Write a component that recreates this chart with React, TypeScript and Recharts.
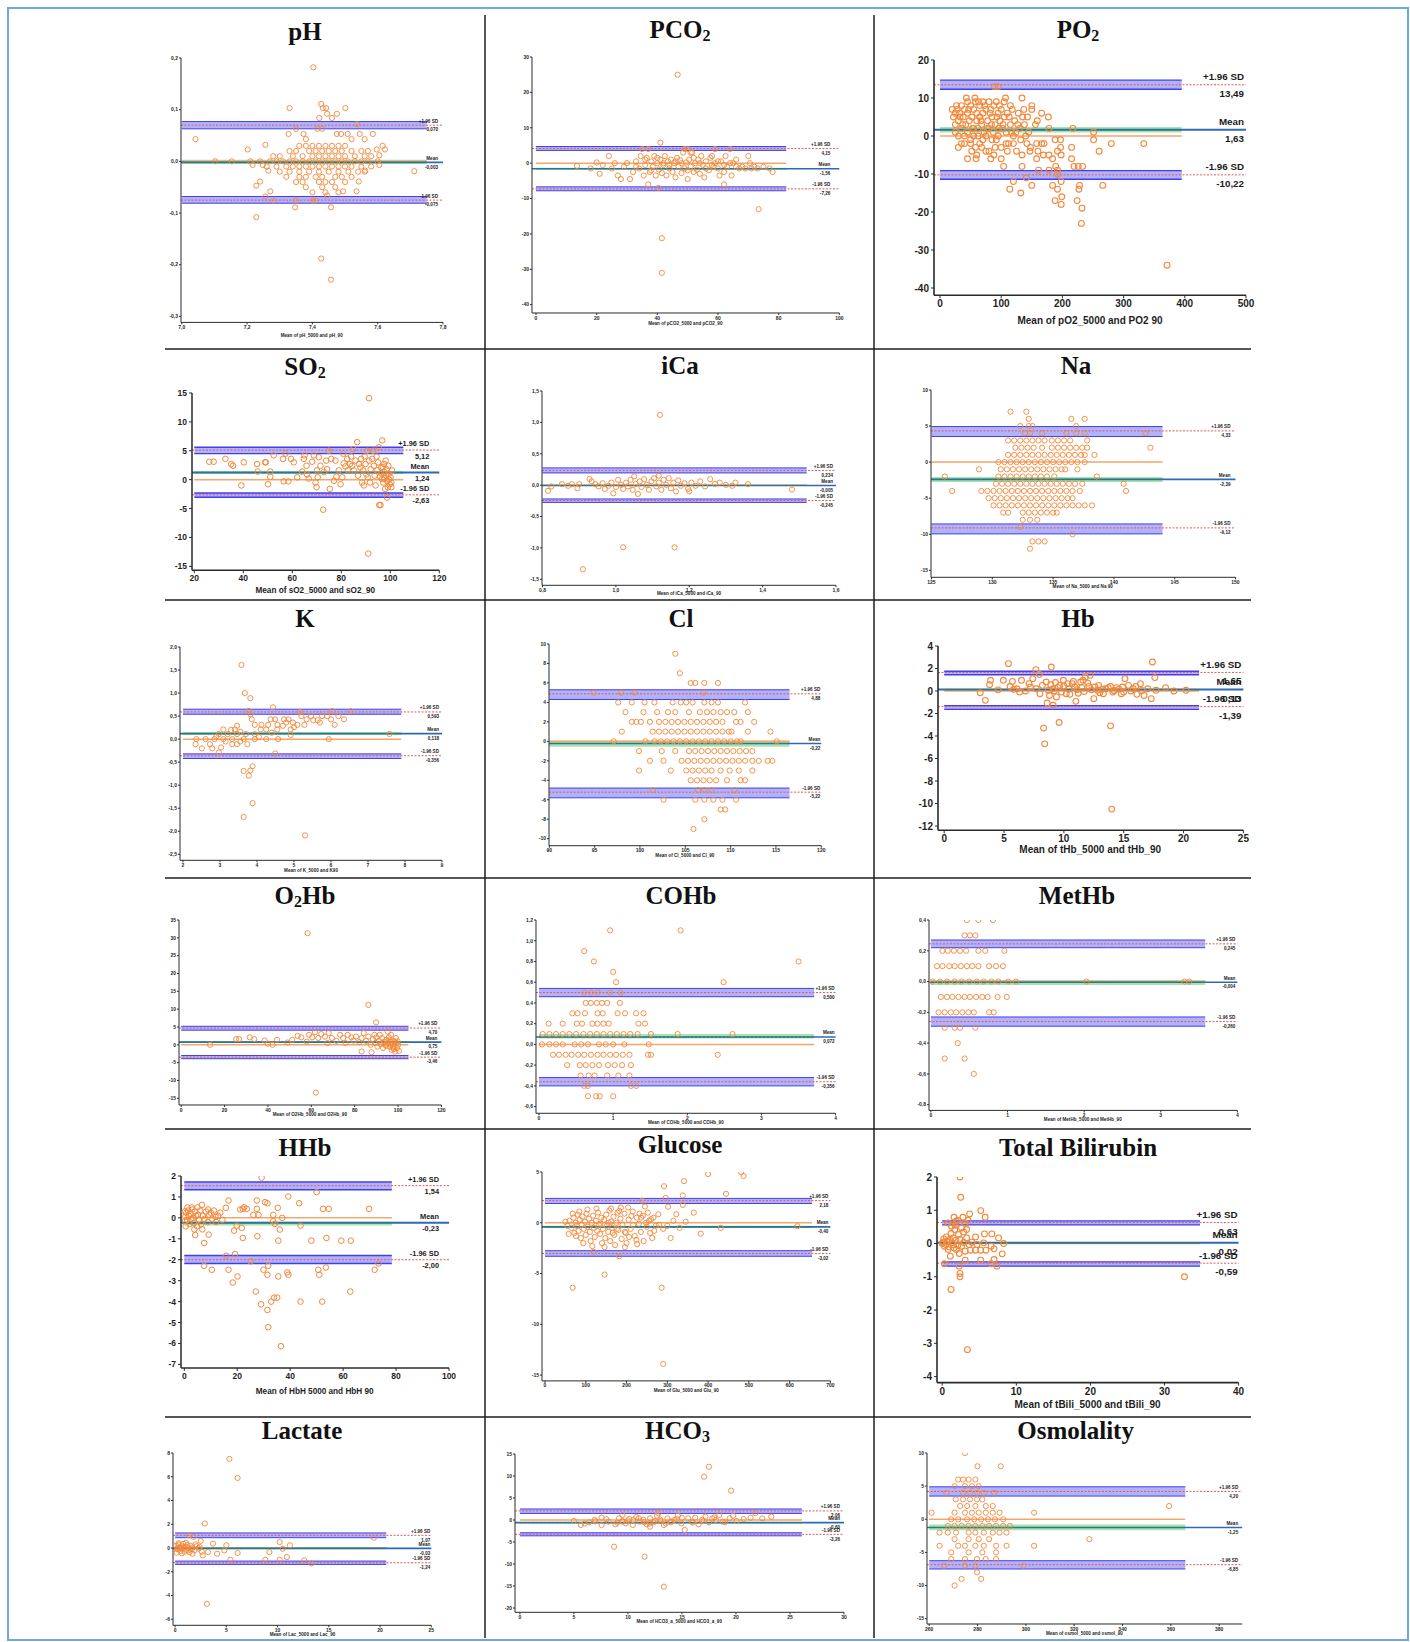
import { ScatterChart, Scatter, XAxis, YAxis, ReferenceLine, ReferenceArea } from 'recharts';

type Pt = [number, number];
type Row = [number, number[]];
type Band = [number, number];

// rows of points sharing one y value (integer-step differences)
const rows = (r: Row[]): Pt[] => r.flatMap(([y, xs]) => xs.map((x): Pt => [x, y]));

// ---------- pH ----------
const PH_X_TICKS = [7.0, 7.2, 7.4, 7.6, 7.8];
const PH_Y_TICKS = [0.2, 0.1, 0, -0.1, -0.2, -0.3];
const PH_LIMITS = [0.07, -0.002, -0.075];
const PH_CI: Band[] = [[0.063, 0.077], [-0.005, 0.003], [-0.081, -0.068]];
const PH_TEXT = ['0,070', '-0,003', '-0,075'];
const PH_END = 7.75;
const PH_POINTS: Pt[] = [
  [7.403, 0.182], [7.33, 0.103], [7.427, 0.111], [7.432, 0.103], [7.442, 0.103], [7.445, 0.092], [7.501, 0.103],
  [7.475, 0.092], [7.46, 0.084], [7.421, 0.084], [7.537, 0.072], [7.35, 0.063], [7.43, 0.063], [7.415, 0.063],
  [7.327, 0.053], [7.373, 0.053], [7.38, 0.043], [7.042, 0.043], [7.475, 0.053], [7.488, 0.053], [7.508, 0.053],
  [7.545, 0.053], [7.585, 0.053], [7.52, 0.043], [7.56, 0.043], [7.256, 0.032], [7.202, 0.023], [7.615, 0.03],
  [7.622, 0.023], [7.597, 0.023], [7.605, 0.012], [7.102, 0], [7.153, 0], [7.21, 0], [7.24, 0], [7.6, 0],
  [7.217, -0.007], [7.248, -0.007], [7.605, -0.007], [7.712, -0.019], [7.265, -0.018], [7.562, -0.018],
  [7.228, -0.047], [7.24, -0.039], [7.271, -0.058], [7.256, -0.068], [7.281, -0.076], [7.35, -0.076],
  [7.347, -0.089], [7.401, -0.076], [7.409, -0.076], [7.457, -0.089], [7.445, -0.066], [7.494, -0.058],
  [7.535, -0.058], [7.542, -0.039], [7.228, -0.108], [7.427, -0.188], [7.457, -0.229],
  ...rows([
    [0.03, [7.36, 7.38, 7.4, 7.42, 7.44, 7.46, 7.48, 7.5]],
    [0.02, [7.33, 7.35, 7.39, 7.41, 7.43, 7.45, 7.47, 7.49, 7.52, 7.55, 7.57]],
    [0.01, [7.28, 7.3, 7.34, 7.37, 7.4, 7.42, 7.44, 7.46, 7.48, 7.5, 7.53, 7.56, 7.58]],
    [0, [7.27, 7.29, 7.31, 7.33, 7.35, 7.37, 7.39, 7.41, 7.43, 7.45, 7.47, 7.49, 7.51, 7.53, 7.55, 7.57]],
    [-0.01, [7.26, 7.29, 7.32, 7.34, 7.36, 7.38, 7.4, 7.42, 7.44, 7.46, 7.48, 7.5, 7.52, 7.55, 7.58]],
    [-0.02, [7.3, 7.33, 7.36, 7.39, 7.42, 7.45, 7.48, 7.51, 7.54, 7.56]],
    [-0.03, [7.32, 7.36, 7.38, 7.41, 7.43, 7.47, 7.49, 7.52]],
    [-0.04, [7.35, 7.37, 7.42, 7.44, 7.46, 7.5]],
    [-0.05, [7.38, 7.43, 7.47]],
    [-0.06, [7.4, 7.44, 7.48]],
  ]),
];

// ---------- PCO2 ----------
const PCO2_X_TICKS = [0, 20, 40, 60, 80, 100];
const PCO2_Y_TICKS = [30, 20, 10, 0, -10, -20, -30, -40];
const PCO2_LIMITS = [4.15, -1.56, -7.26];
const PCO2_CI: Band[] = [[3.6, 4.7], [-1.85, -1.3], [-7.8, -6.7]];
const PCO2_TEXT = ['4,15', '-1,56', '-7,26'];
const PCO2_END = 82.5;
const PCO2_POINTS: Pt[] = [
  [46.7, 25], [41.5, -21.2], [41.5, -31], [73.4, -13], [40.4, -7], [37, -6], [62, -6], [41, 5.8], [49, 4], [50, 4],
  [51, 3], [59, 4], [64, 4], [13.5, -0.8], [18, -1.5], [20, 0.2], [21, -3], [22, -0.5], [24, 2], [25, -1.5], [26, 0],
  [27, -3.5], [28, -4.5], [29, -1], [30, 0], [31, -4.5], [32, -2.5], [33, 0.5], [34, -1.5], [34.5, 2], [35, 4],
  [35.5, -3.5], [36, -0.5], [36.5, 1.5], [37, 4], [37.5, -2.5], [38, 0.5], [38.5, -1], [39, 2], [39.5, -3.5],
  [40, 0], [40.5, -1.8], [41, 1], [41.5, -2.8], [42, -0.5], [42.5, 2], [43, -3.5], [43.5, 0.5], [44, -1.5],
  [44.5, 1], [45, -2.5], [45.5, 0], [46, -4], [46.5, 1.5], [47, -1], [47.5, 0.8], [48, -2.8], [48.5, 3],
  [49, -1.5], [49.5, 0.2], [50, -4.5], [50.5, 1], [51, -1], [51.5, 3], [52, -2.5], [52.5, 0], [53, -1.8],
  [53.5, 1], [54, -3], [54.5, 2], [55, -0.5], [55.5, -4], [56, 0.5], [57, -2], [57.5, 1.5], [58, 2], [58.5, -1],
  [59, 0], [60, -1.5], [60.5, -3.5], [61, 0.5], [62, -2.5], [62.5, 2], [63, -1], [64, 0], [64.5, -3.5], [65, 0],
  [66, -1], [67, -1.5], [68, -1], [69, -1.5], [70, 2], [70.5, 0], [71, -1.5], [72, -1], [73, -1.5], [75, -1],
  [77, -1.5], [78, -2.5], [33, -1], [36, 1], [38, -2], [40, 1.5], [42, 0], [44, -0.5], [46, 0.5], [48, 0],
  [50, -2], [52, 1.5], [54, 0], [56, -1.5], [58, -0.5], [60, 0.5], [62, -0.5], [66, 1],
];

// ---------- PO2 ----------
const PO2_X_TICKS = [0, 100, 200, 300, 400, 500];
const PO2_Y_TICKS = [20, 10, 0, -10, -20, -30, -40];
const PO2_LIMITS = [13.49, 1.63, -10.22];
const PO2_CI: Band[] = [[12.3, 14.7], [0.9, 2.4], [-11.4, -9.1]];
const PO2_TEXT = ['13,49', '1,63', '-10,22'];
const PO2_END = 395;
const PO2_POINTS: Pt[] = [
  [89, 13], [95, 13], [43, 10], [57, 10], [107, 10], [134, 10], [150, 8], [150, 7], [166, 6], [177, 5], [159, 4],
  [156, 3], [178, 2], [217, 2], [251, 1], [188, -1], [197, -1], [251, -1], [280, -2], [333, -2], [158, -2],
  [166, -2], [170, -2], [197, -3], [215, -3], [147, -4], [160, -4], [192, -4], [260, -4], [134, -5], [169, -5],
  [178, -5], [198, -5], [45, -6], [59, -6], [83, -6], [158, -6], [184, -6], [215, -6], [104, -8], [134, -8],
  [189, -8], [219, -8], [226, -8], [233, -8], [161, -9], [178, -9], [192, -9], [192, -10], [141, -11], [120, -12],
  [198, -12], [150, -13], [184, -13], [228, -13], [266, -13], [114, -14], [192, -14], [227, -14], [132, -15],
  [199, -16], [188, -17], [224, -17], [198, -18], [232, -19], [231, -23], [371, -34],
  [20, 7], [22, 5], [25, 6], [25, 3], [28, 7], [30, 4], [30, -3], [32, 6], [35, 8], [35, 2], [38, 5], [40, 7],
  [40, -2], [42, 3], [45, 9], [45, 6], [45, 1], [48, 4], [50, 8], [50, -1], [52, 5], [55, 7], [55, 2], [58, 9],
  [58, -3], [60, 6], [60, 4], [62, 0], [65, 8], [65, 5], [65, -2], [68, 3], [70, 9], [70, 6], [72, 1], [75, 7],
  [75, -4], [78, 4], [80, 9], [80, 2], [82, 6], [85, 5], [85, -1], [88, 8], [88, -5], [90, 3], [92, 9], [95, 6],
  [95, 0], [98, 4], [100, 7], [100, -3], [102, 2], [105, 5], [108, 1], [110, 6], [112, -2], [115, 3], [118, 7],
  [120, 0], [122, 4], [125, -4], [128, 6], [130, 2], [132, -1], [135, 5], [138, 3], [140, 0], [142, -2], [145, 1],
  [148, -3], [35, -2], [50, -2], [70, -1], [90, -3], [110, -4], [80, -4], [60, -5], [100, -6], [30, 0], [40, 0],
  [55, 0], [75, 0], [120, -2], [25, 1], [115, 8], [105, 9], [27, 8], [33, 5], [37, 3], [47, 7], [53, 2],
  [63, 9], [67, 4], [73, 8], [77, 2], [83, 7], [87, 1], [93, 5], [97, 8], [103, 3], [113, 5], [117, 1],
  [127, 3], [137, 7], [143, 5], [52, -4], [68, -3], [92, -1], [108, -2], [124, 1], [62, 2], [84, 3], [96, 2],
];

// ---------- SO2 ----------
const SO2_X_TICKS = [20, 40, 60, 80, 100, 120];
const SO2_Y_TICKS = [15, 10, 5, 0, -5, -10, -15];
const SO2_LIMITS = [5.12, 1.24, -2.63];
const SO2_CI: Band[] = [[4.5, 5.6], [0.98, 1.44], [-3.05, -2.3]];
const SO2_TEXT = ['5,12', '1,24', '-2,63'];
const SO2_END = 105.3;
const SO2_POINTS: Pt[] = [
  [26.1, 3.1], [27.9, 3.1], [32.7, 3.6], [35.1, 2.7], [35.8, 2.4], [40.2, 3.0], [39.2, -1.0], [45.6, 2.7],
  [45.9, 1.4], [48.9, 3.0], [49.2, 3.0], [50.1, -0.8], [51, 0.5], [51, 1.4], [52.4, 4.2], [56.2, 3.6], [57.2, 4.5],
  [56.5, -0.3], [58.4, -0.3], [59.5, 3.6], [60.6, 3.0], [62, 0.4], [64, 1.4], [64.7, 3.6], [65, 4.2], [65.8, 2.4],
  [66, 0.9], [66.7, 0.2], [68.1, 3.1], [68.8, 4.2], [69.5, -0.5], [69.9, -1.3], [70.1, 1.6], [70.4, 0.4],
  [70.8, 3.9], [71.5, 2.4], [72.6, -5.2], [72.9, 1.3], [73.8, 3.3], [74.2, 1.8], [74.9, 5.0], [75.3, -1.6],
  [75.9, 3.6], [77, -0.2], [77.6, 3.3], [78, 0.5], [79, 1.6], [79.7, -0.8], [80.4, 0.4], [80.8, 4.5], [81, 2.8],
  [81.7, 2.3], [82.4, 3.6], [82.7, 1.6], [83.5, 2.7], [84, 4.0], [84.4, 2.4], [84.9, 5.3], [85.1, 1.6],
  [85.8, 3.3], [86.5, 6.5], [86.8, 0.7], [87.2, 2.7], [87.8, 2.1], [88.1, 3.6], [88.5, -0.5], [88.9, 1.6],
  [89.2, -1.0], [89.5, 4.0], [89.9, 2.7], [90.3, 0.9], [90.6, 5.0], [90.8, 0.4], [91.3, 14.1], [91.3, 3.3],
  [91.7, -0.5], [92, 1.8], [91, -12.8], [92.6, 3.6], [93, 5.0], [93.3, 2.4], [93.6, 0.7], [94, -1.0], [94.4, 4.0],
  [94.7, 1.6], [95, 3.0], [95.3, 5.6], [95.5, -4.4], [96, -4.4], [96.3, 2.1], [96.7, 6.8], [96.7, 0.1],
  [97.1, -0.5], [97.4, 2.7], [97.7, 1.3], [98.1, 3.3], [98.2, 0.7], [98.5, 1.8], [98.7, -0.2], [98.7, -3.1],
  [99, -1.3], [99.4, 1.0], [99.8, -0.8], [100.1, 0.4], [100.4, -0.5], [100.7, 1.6], [99.2, 2.4], [100.4, -1.3],
  [97.5, 0.2], [98.9, 0.9], [96.2, 1.1], [97.9, -1.6], [99.6, 0.0], [96.9, 2.2], [95.8, 0.5],
];

// ---------- iCa ----------
const ICA_X_TICKS = [0.8, 1.0, 1.2, 1.4, 1.6];
const ICA_Y_TICKS = [1.5, 1.0, 0.5, 0, -0.5, -1.0, -1.5];
const ICA_LIMITS = [0.234, -0.005, -0.245];
const ICA_CI: Band[] = [[0.195, 0.275], [-0.015, 0.005], [-0.275, -0.22]];
const ICA_TEXT = ['0,234', '-0,005', '-0,245'];
const ICA_END = 1.52;
const ICA_POINTS: Pt[] = [
  [1.12, 1.12], [0.91, -1.34], [1.02, -0.99], [1.16, -0.99], [1.48, -0.07],
  [0.815, -0.09], [0.824, -0.02], [0.853, 0.016], [0.87, -0.01], [0.88, 0.016], [0.895, -0.05], [0.9, 0.016],
  [0.928, 0.1], [0.934, 0.06], [0.944, 0.016], [0.953, -0.02], [0.964, 0.03], [0.97, -0.06], [0.98, -0.01],
  [0.988, 0.04], [0.993, -0.13], [1.0, -0.03], [1.006, 0.085], [1.014, 0.005], [1.02, -0.06], [1.028, 0.04],
  [1.033, -0.02], [1.04, 0.085], [1.046, -0.075], [1.054, 0.02], [1.06, -0.14], [1.065, 0.06], [1.07, -0.03],
  [1.077, 0.095], [1.084, 0.005], [1.09, -0.075], [1.097, 0.06], [1.104, 0.11], [1.11, -0.02], [1.117, 0.04],
  [1.124, -0.075], [1.13, 0.085], [1.137, 0.005], [1.144, 0.11], [1.15, -0.05], [1.157, 0.04], [1.164, -0.1],
  [1.17, 0.075], [1.177, -0.01], [1.187, 0.03], [1.197, -0.06], [1.206, 0.04], [1.217, -0.01], [1.23, 0.06],
  [1.243, -0.02], [1.257, 0.095], [1.27, 0.02], [1.283, 0.04], [1.3, 0.005], [1.317, -0.01], [1.326, 0.04],
  [1.36, 0.016], [1.2, -0.1], [1.05, 0.14], [1.117, 0.15],
];

// ---------- Na ----------
const NA_X_TICKS = [125, 130, 135, 140, 145, 150];
const NA_Y_TICKS = [10, 5, 0, -5, -10, -15];
const NA_LIMITS = [4.33, -2.39, -9.12];
const NA_CI: Band[] = [[3.55, 4.93], [-2.76, -2.07], [-9.95, -8.57]];
const NA_TEXT = ['4,33', '-2,39', '-9,12'];
const NA_END = 144;
const NA_POINTS: Pt[] = rows([
  [7, [131.5, 132.8]],
  [6, [133.0, 136.5, 137.6]],
  [5, [132.3, 133.0, 133.3, 136.9]],
  [4, [132.7, 133.1, 134.1, 136.1, 136.9, 137.6, 142.6]],
  [3, [131.3, 131.8, 132.3, 132.8, 133.3, 133.8, 134.3, 134.9, 135.4, 135.9, 136.4, 137.8]],
  [2, [131.9, 132.4, 132.9, 133.4, 134.1, 134.9, 135.4, 135.9, 136.4, 136.9, 137.4, 137.8, 143.0]],
  [1, [131.3, 131.8, 132.3, 132.8, 133.3, 133.8, 134.3, 134.8, 135.3, 135.8, 136.3, 136.8, 137.3, 137.6, 138.4]],
  [0, [130.5, 131.0, 131.5, 132.0, 132.5, 133.0, 133.5, 134.0, 134.5, 135.0, 135.5, 136.0, 136.5, 137.0, 137.6]],
  [-1, [128.9, 130.7, 131.2, 131.7, 132.2, 132.7, 133.2, 133.7, 134.2, 134.7, 135.2, 135.7, 136.0, 137.0]],
  [-2, [126.1, 130.5, 131.0, 131.5, 132.0, 132.5, 133.0, 133.5, 134.0, 134.5, 135.1, 138.6]],
  [-3, [130.3, 130.8, 131.3, 131.8, 132.3, 132.8, 133.3, 133.8, 134.3, 134.8, 135.3, 135.8, 136.3, 136.8, 137.4, 140.8]],
  [-4, [126.7, 129.1, 129.6, 130.1, 130.6, 131.1, 131.6, 132.1, 132.6, 133.1, 133.6, 134.1, 134.6, 135.1, 135.6, 136.1, 136.6, 137.2, 141.0]],
  [-5, [129.7, 130.2, 130.7, 131.2, 131.7, 132.2, 132.7, 133.2, 133.7, 134.2, 134.7, 135.2, 135.7, 136.2, 136.6]],
  [-6, [130.1, 130.6, 131.1, 131.6, 132.1, 132.6, 133.1, 133.6, 134.1, 134.6, 135.1, 135.6, 136.1, 136.6, 137.1, 137.6, 138.2]],
  [-7, [130.9, 131.3, 132.5, 133.0, 133.5, 134.0, 134.5, 135.0, 135.3]],
  [-8, [132.5, 133.1, 133.7]],
  [-9, [132.3]],
  [-10, [136.6]],
  [-11, [133.3, 133.8, 134.3]],
  [-12, [133.1]],
]);

// ---------- K ----------
const K_X_TICKS = [2, 3, 4, 5, 6, 7, 8, 9];
const K_Y_TICKS = [2.0, 1.5, 1.0, 0.5, 0, -0.5, -1.0, -1.5, -2.0, -2.5];
const K_LIMITS = [0.59, 0.12, -0.36];
const K_CI: Band[] = [[0.54, 0.65], [0.095, 0.155], [-0.42, -0.32]];
const K_TEXT = ['0,593', '0,118', '-0,356'];
const K_END = 7.9;
const K_POINTS: Pt[] = [
  [3.58, 1.61], [3.67, 1.0], [3.82, 0.89], [3.78, 0.61], [4.43, 0.69], [5.16, 0.59], [6.03, 0.61], [6.53, 0.61],
  [3.82, 0.54], [3.86, 0.43], [3.46, 0.29], [3.09, 0.21], [3.4, 0.21], [4.37, 0.43], [4.49, 0.43], [4.73, 0.43],
  [5.34, 0.43], [5.46, 0.5], [5.76, 0.5], [5.9, 0.5], [6.0, 0.43], [6.1, 0.31], [3.94, 0.31], [4.12, 0.31],
  [4.3, 0.31], [4.55, 0.31], [4.79, 0.36], [4.97, 0.36], [5.09, 0.31], [5.28, 0.31], [5.52, 0.41], [5.64, 0.41],
  [4.25, 0.21], [4.55, 0.21], [4.91, 0.21], [2.97, 0.11], [3.21, 0.11], [3.46, 0.11], [3.7, 0.11], [3.94, 0.11],
  [4.91, 0.09], [7.58, 0.11], [2.36, 0], [2.61, 0], [2.85, 0], [3.09, 0], [3.33, 0], [3.64, 0], [3.94, 0],
  [4.25, 0], [4.57, 0], [5.94, 0], [2.34, -0.11], [2.51, -0.2], [2.73, -0.11], [2.79, -0.2], [2.97, -0.29],
  [3.03, -0.18], [3.33, -0.11], [3.46, -0.11], [3.74, -0.11], [4.49, -0.31], [3.88, -0.59], [3.82, -0.68],
  [3.64, -0.69], [3.78, -0.79], [3.88, -1.39], [3.64, -1.69], [5.3, -2.09],
  [4.1, 0.21], [4.7, 0.29], [5.0, 0.26], [3.3, 0.2], [3.55, 0.16], [4.05, 0.05], [4.4, 0.14], [2.9, 0.05],
  [3.15, -0.05], [3.55, -0.05], [5.7, 0.36], [6.2, 0.5], [6.35, 0.43], [5.2, 0.5], [4.85, 0.43],
];

// ---------- Cl ----------
const CL_X_TICKS = [90, 95, 100, 105, 110, 115, 120];
const CL_Y_TICKS = [10, 8, 6, 4, 2, 0, -2, -4, -6, -8, -10];
const CL_LIMITS = [4.88, -0.22, -5.22];
const CL_CI: Band[] = [[4.3, 5.3], [-0.55, 0.05], [-5.8, -4.8]];
const CL_TEXT = ['4,88', '-0,22', '-5,22'];
const CL_END = 116.5;
const CL_POINTS: Pt[] = rows([
  [9, [103.9]],
  [7, [104.4]],
  [6, [105.6, 106.1, 107.1, 108.6]],
  [5, [94.9, 97.9, 99.4, 107.0]],
  [4, [97.6, 99.1, 100.5, 101.6, 103.6, 104.5, 105.1, 105.8, 107.1, 107.9, 108.6, 111.6]],
  [3, [98.4, 100.4, 101.9, 103.1, 103.9, 105.4, 106.6, 107.4, 108.1, 108.9, 109.6, 110.4, 111.9]],
  [2, [99.1, 99.6, 100.1, 101.1, 102.1, 102.8, 103.5, 104.2, 104.9, 105.6, 106.3, 107.0, 107.7, 108.4, 109.1, 110.6, 111.1, 112.6]],
  [1, [98.0, 101.4, 102.1, 102.8, 103.5, 104.2, 104.9, 105.6, 106.3, 107.0, 107.7, 108.4, 109.1, 109.8, 110.1, 111.9, 114.4]],
  [0, [97.1, 100.6, 101.6, 102.3, 103.0, 103.7, 104.4, 105.1, 105.8, 106.5, 107.2, 107.9, 108.6, 109.3, 110.0, 110.7, 111.1, 115.1]],
  [-1, [99.9, 102.4, 103.9, 105.4, 106.1, 106.8, 107.5, 108.2, 108.9, 109.6, 110.3, 111.0, 111.7, 112.4]],
  [-2, [101.1, 102.6, 104.6, 105.3, 106.0, 106.7, 107.4, 108.1, 108.8, 109.5, 110.2, 110.9, 111.6, 112.4, 113.1, 114.1, 114.6]],
  [-3, [99.9, 103.4, 105.1, 105.8, 106.5, 107.2, 107.9, 108.9, 109.9, 110.9, 112.4]],
  [-4, [105.6, 106.3, 107.0, 107.7, 108.4, 109.6, 111.1, 111.6]],
  [-5, [101.4, 106.4, 107.1, 107.9, 110.4]],
  [-6, [102.6, 106.1, 107.1, 108.1, 109.1, 110.6]],
  [-7, [108.9, 109.4]],
  [-8, [107.1]],
  [-9, [105.9]],
]);

// ---------- Hb ----------
const HB_X_TICKS = [0, 5, 10, 15, 20, 25];
const HB_Y_TICKS = [4, 2, 0, -2, -4, -6, -8, -10, -12];
const HB_LIMITS = [1.65, 0.13, -1.39];
const HB_CI: Band[] = [[1.45, 1.75], [0.05, 0.2], [-1.63, -1.3]];
const HB_TEXT = ['1,65', '0,13', '-1,39'];
const HB_END = 21.3;
const HB_POINTS: Pt[] = [
  [5.37, 2.43], [17.4, 2.58], [8.95, 2.13], [7.66, 1.9], [7.95, 1.48], [12.2, 1.39], [11.6, 0.95], [17.6, 1.19],
  [3.87, 0.95], [4.94, 0.95], [6.46, 0.95], [5.7, 0.85], [7.4, 1.1], [3.79, 0.56], [3.01, -0.15], [3.44, -0.83],
  [5.5, 0.4], [6.08, 0.2], [7.09, 0.65], [8.52, 0.8], [9.1, 0.2], [9.38, -0.53], [9.67, 0.5], [9.96, 0.95],
  [10.2, -0.24], [10.4, 0.2], [10.7, 0.65], [11.1, 0.12], [11.4, 0.8], [11.8, 1.24], [12.1, 0.41], [12.5, -0.68],
  [12.8, 0.06], [13.3, -0.24], [13.7, 0.3], [14.1, -0.09], [14.4, 0.3], [14.8, -0.24], [15.1, 1.1], [15.4, 0.5],
  [15.8, 0.2], [16.1, -0.3], [16.4, 0.65], [16.7, -0.39], [17.3, -0.68], [17.7, 0.06], [18.5, 0.3], [19.2, 0],
  [20.2, 0.06], [8.6, -1.07], [9.1, -1.27], [11, -0.92], [8.3, -3.3], [9.6, -2.8], [8.4, -4.7], [13.9, -3.1],
  [14, -10.5], [7.7, 0.2], [8.0, -0.24], [8.2, 0.5], [8.7, 0.06], [8.8, -0.4], [9.2, 0.0], [9.5, 0.3],
  [9.8, -0.1], [10.0, 0.45], [10.3, 0.65], [10.5, -0.3], [10.9, 0.35], [11.2, -0.2], [11.5, 0.3], [11.7, -0.05],
  [12.0, 0.7], [12.3, 0.1], [12.6, 0.35], [13.0, -0.15], [13.5, 0.2], [13.9, 0.4], [14.2, 0.05], [14.6, 0.15],
  [15.0, -0.1], [15.6, 0.0], [16.0, 0.4], [6.8, 0.0], [7.2, 0.35], [6.3, -0.1], [5.8, 0.15], [4.5, 0.1],
  [10.8, 0.85], [9.3, 0.75], [8.9, 0.55], [12.9, 0.5], [13.2, 0.15], [14.9, 0.35], [16.5, 0.05], [17.0, 0.2],
];

// ---------- O2Hb ----------
const O2HB_X_TICKS = [0, 20, 40, 60, 80, 100, 120];
const O2HB_Y_TICKS = [35, 30, 25, 20, 15, 10, 5, 0, -5, -10, -15];
const O2HB_LIMITS = [4.7, 0.75, -3.46];
const O2HB_CI: Band[] = [[4.1, 5.2], [0.5, 1.0], [-3.9, -3.0]];
const O2HB_TEXT = ['4,70', '0,75', '-3,46'];
const O2HB_END = 104.8;
const O2HB_POINTS: Pt[] = [
  [58.3, 31.3], [86.3, 11.2], [89.9, 6.3], [62.1, -13.4], [13.3, 0], [25.3, 1.6], [26.7, 1.6], [31.6, 2.1],
  [33.7, 1.6], [38.5, 1.2], [40, 0.3], [42.1, 0], [44.2, 1.4], [49, 0.65], [51.2, 1.4], [53.7, 2.5], [55.4, 2.1],
  [57.9, 0.9], [59, 2.8], [60.4, 2.1], [61.7, 3.55], [63.2, 1.9], [64.6, 3], [66.3, 2.3], [67.4, 0.5], [68, 3.3],
  [69.5, 1.9], [71.6, 1.1], [73.3, 2.8], [74.7, 1.9], [75.8, 0.5], [76.8, 2.8], [78.5, 2.1], [79.4, 1.2],
  [80.6, 2.3], [82.1, 0.75], [83.2, 1.9], [83.2, -1.9], [84.2, 3.3], [85.3, 1.1], [86.3, 2.3], [87.4, 0],
  [87.8, -2.1], [88.4, 1.6], [89.1, 2.8], [89.5, 0.5], [90.1, 2.1], [90.5, -0.5], [91.2, 1.1], [91.6, 2.8],
  [92, 0.2], [92.6, 1.9], [93.1, -0.9], [93.7, 0.9], [94.1, 0], [94.7, 1.4], [95.2, 3.7], [95.4, 0.5],
  [95.8, 2.1], [96.2, -0.5], [96.6, 0.9], [97, -1.4], [97.5, 0.2], [97.9, 1.1], [98.3, -0.5], [98.7, -1.9],
  [99.2, 0.5], [99.6, -0.9], [100, 0], [100.4, -1.7], [99, 1.9], [96.8, 2.8], [94.5, -0.3], [96.5, 0.1],
  [97.7, -0.8], [98.5, 0.8], [95.6, 1.2], [93.4, 0.4], [99.8, 1.0], [98.0, -1.2],
];

// ---------- COHb ----------
const COHB_X_TICKS = [0, 1, 2, 3, 4];
const COHB_Y_TICKS = [1.2, 1.0, 0.8, 0.6, 0.4, 0.2, 0, -0.2, -0.4, -0.6];
const COHB_LIMITS = [0.5, 0.072, -0.36];
const COHB_CI: Band[] = [[0.46, 0.54], [0.058, 0.1], [-0.4, -0.32]];
const COHB_TEXT = ['0,500', '0,072', '-0,356'];
const COHB_END = 3.71;
const COHB_POINTS: Pt[] = rows([
  [1.1, [0.96, 1.91]],
  [0.9, [0.61]],
  [0.8, [0.74, 3.5]],
  [0.7, [1.0]],
  [0.6, [1.04, 2.49]],
  [0.5, [0.61, 0.7, 0.79, 0.96, 1.1]],
  [0.4, [0.63, 0.7, 0.78, 0.85, 0.92, 1.09]],
  [0.3, [0.45, 0.52, 0.62, 0.79, 0.86, 1.06, 1.16, 1.31, 1.41]],
  [0.2, [0.13, 0.32, 0.51, 0.58, 0.72, 0.79, 0.87, 0.94, 1.34, 1.43]],
  [0.1, [0.05, 0.14, 0.23, 0.32, 0.41, 0.5, 0.6, 0.69, 0.78, 0.87, 0.96, 1.05, 1.14, 1.23, 1.33, 1.51, 1.87, 2.61]],
  [0, [0.04, 0.14, 0.23, 0.32, 0.48, 0.57, 0.66, 0.81, 0.9, 1.0, 1.15, 1.48]],
  [-0.1, [0.19, 0.27, 0.36, 0.44, 0.53, 0.61, 0.7, 0.79, 0.87, 0.96, 1.04, 1.13, 1.22, 1.47, 1.51, 2.41]],
  [-0.2, [0.38, 0.55, 0.63, 0.72, 0.81, 0.93, 1.02, 1.12, 1.24]],
  [-0.3, [0.56, 0.67, 0.75, 0.92, 1.07, 1.22]],
  [-0.4, [0.61, 0.66, 1.24, 1.31]],
  [-0.5, [0.66, 0.77, 0.82, 1.0]],
]);

// ---------- MetHb ----------
const METHB_X_TICKS = [0, 1, 2, 3, 4];
const METHB_Y_TICKS = [0.4, 0.2, 0, -0.2, -0.4, -0.6, -0.8];
const METHB_LIMITS = [0.245, -0.004, -0.26];
const METHB_CI: Band[] = [[0.22, 0.27], [-0.022, 0.01], [-0.29, -0.23]];
const METHB_TEXT = ['0,245', '-0,004', '-0,260'];
const METHB_END = 3.58;
const METHB_POINTS: Pt[] = rows([
  [0.4, [0.47, 0.62, 0.81]],
  [0.3, [0.44, 0.51, 0.58]],
  [0.2, [0.15, 0.22, 0.3, 0.38, 0.46, 0.62, 0.71, 0.96]],
  [0.1, [0.08, 0.15, 0.24, 0.31, 0.39, 0.47, 0.54, 0.62, 0.76, 0.85, 0.94]],
  [0, [0.02, 0.12, 0.21, 0.31, 0.4, 0.5, 0.6, 0.69, 0.79, 0.88, 1.01, 1.11, 2.03, 3.31, 3.37]],
  [-0.1, [0.13, 0.21, 0.28, 0.36, 0.44, 0.51, 0.59, 0.67, 0.74, 0.87, 0.99]],
  [-0.2, [0.1, 0.18, 0.26, 0.33, 0.41, 0.49, 0.56, 0.76, 0.82]],
  [-0.3, [0.18, 0.31, 0.38, 0.58]],
  [-0.4, [0.35]],
  [-0.5, [0.18, 0.44]],
  [-0.6, [0.56]],
]);

// ---------- HHb ----------
const HHB_X_TICKS = [0, 20, 40, 60, 80, 100];
const HHB_Y_TICKS = [2, 1, 0, -1, -2, -3, -4, -5, -6, -7];
const HHB_LIMITS = [1.54, -0.23, -2.0];
const HHB_CI: Band[] = [[1.34, 1.71], [-0.37, -0.18], [-2.18, -1.8]];
const HHB_TEXT = ['1,54', '-0,23', '-2,00'];
const HHB_END = 78.4;
const HHB_POINTS: Pt[] = [
  [29.2, 1.92], [50, 1.23], [39.3, 1.02], [43.4, 0.7], [69.8, 0.43], [52.4, 0.43], [54.6, 0.43], [35.3, 0.48],
  [27.4, 0.83], [30.5, 0.75], [31.4, 0.7], [16.7, 0.83], [21.1, 0.4], [22.1, 0.43], [22.6, 0.51], [23.6, 0.43],
  [27.4, 0.43], [6.65, 0.62], [15.7, 0.48], [33.6, 0.14], [37, 0], [26.1, 0.14], [28, 0.14], [43.9, -0.37],
  [33.6, -0.16], [34.2, -0.29], [36.1, -0.56], [21.7, -0.48], [19.8, -0.37], [18.8, -0.61], [22.1, -0.96],
  [27.6, -0.88], [35.5, -1.09], [48, -1.09], [53.7, -0.96], [59.3, -1.09], [62.9, -1.09], [7.5, -1.2],
  [9.2, -0.8], [4.1, -0.82], [15.8, -1.81], [19.2, -1.73], [25.1, -2.08], [7.5, -2.29], [10.4, -2.48],
  [16.7, -2.48], [20.1, -2.8], [18.3, -3.09], [29.9, -2.48], [31.4, -2.72], [31.7, -2.29], [35.5, -2.8],
  [38.9, -2.61], [39.3, -2.72], [50.6, -2.48], [51, -2.72], [53.5, -2.37], [71.9, -2.48], [73.4, -2.18],
  [27, -3.52], [29, -4.13], [32.8, -4], [33.9, -3.81], [35.1, -3.81], [31.4, -4.4], [31.7, -5.22], [43.9, -4],
  [52.1, -4], [62.7, -3.52], [36.5, -6.13],
  [0.4, 0.05], [0.8, 0.25], [1.1, -0.1], [1.4, 0.35], [1.7, 0.1], [2.0, -0.3], [2.3, 0.2], [2.6, -0.05],
  [3.0, 0.4], [3.3, 0.0], [3.6, -0.25], [4.0, 0.3], [4.4, 0.1], [4.8, -0.4], [5.2, 0.15], [5.6, -0.1],
  [6.0, 0.35], [6.4, -0.3], [7.0, 0.1], [7.6, -0.05], [8.2, 0.3], [8.8, -0.2], [9.4, 0.15], [10.0, 0.25],
  [10.6, -0.05], [11.2, 0.35], [12.0, -0.2], [12.8, 0.1], [13.6, 0.25], [14.4, -0.1], [0.5, -0.4], [1.2, 0.5],
  [2.8, 0.5], [3.8, -0.55], [5.0, 0.5], [6.8, -0.55], [9.0, 0.4], [11.8, 0.05], [0.2, 0.3], [0.3, -0.15],
];

// ---------- Glucose ----------
const GLU_X_TICKS = [0, 100, 200, 300, 400, 500, 600, 700];
const GLU_Y_TICKS = [5, 0, -5, -10, -15];
const GLU_LIMITS = [2.18, -0.4, -3.02];
const GLU_CI: Band[] = [[1.9, 2.4], [-0.52, -0.3], [-3.3, -2.75]];
const GLU_TEXT = ['2,18', '-0,40', '-3,02'];
const GLU_END = 655;
const GLU_POINTS: Pt[] = [
  [400, 4.8], [481, 5], [487, 4.6], [341, 4.1], [292, 3.6], [444, 2.85], [338, 2.7], [238, 2.18], [296, 2.45],
  [302, 1.58], [338, 1.75], [365, 1.0], [322, 0.84], [278, 0.84], [266, 0.5], [204, 1.5], [162, 1.4], [182, 1.17],
  [212, 0.67], [236, 0.5], [260, 0.34], [248, 0], [272, -0.27], [290, -0.6], [263, -1.5], [308, -1.5],
  [382, -1.07], [431, -0.5], [619, -0.34], [224, -1.68], [196, -2.4], [182, -3.3], [119, -2.85], [146, -5.1],
  [68, -6.4], [286, -6.4], [290, -13.9],
  [60, 0.2], [65, -0.5], [70, 0.5], [72, -1], [75, 0], [78, -0.3], [80, 0.8], [82, -0.8], [85, 0.3], [88, -1.5],
  [90, -0.2], [92, 0.6], [95, -0.6], [98, 0.1], [100, -1.2], [102, 0.9], [105, -0.4], [108, 0.4], [110, -0.9],
  [112, -1.8], [115, 0], [118, 0.7], [120, -0.5], [122, -1.4], [125, 0.2], [128, -0.8], [130, 1.0], [132, -0.2],
  [135, -1.1], [138, 0.5], [140, -2.0], [142, -0.6], [145, 0.3], [148, -1.5], [150, 0.8], [152, -0.3],
  [155, -0.9], [158, 1.2], [160, -1.8], [162, 0.1], [165, -0.5], [168, 0.6], [170, -1.2], [172, -2.2], [175, 0],
  [178, 1.0], [180, -0.7], [185, 0.4], [188, -1.6], [190, -0.2], [195, 0.9], [198, -1.0], [200, -2.0],
  [205, 0.3], [210, -0.6], [215, 1.1], [220, -1.3], [225, 0.5], [230, -0.1], [235, -0.9], [240, 0.7],
  [245, 1.6], [250, -0.4], [255, 0.2], [55, -0.3], [50, 0.1], [58, -1.1], [68, 0.9], [76, -1.3], [84, 1.1],
  [94, -2.0], [104, 1.3], [116, -2.3], [126, 1.4], [136, -0.1], [146, -2.4], [156, 0.0], [166, -1.0],
  [176, -0.6], [186, 1.5], [196, -0.9], [206, -1.4], [216, -0.2], [226, -2.1], [232, 0.9], [242, -1.8],
  [252, 1.0], [258, -1.0], [268, -0.8], [280, -0.2], [300, -0.3], [315, 0.2], [330, -0.5], [345, 0.1],
];

// ---------- Total bilirubin ----------
const TBIL_X_TICKS = [0, 10, 20, 30, 40];
const TBIL_Y_TICKS = [2, 1, 0, -1, -2, -3, -4];
const TBIL_LIMITS = [0.63, 0.02, -0.59];
const TBIL_CI: Band[] = [[0.56, 0.68], [0.0, 0.04], [-0.68, -0.55]];
const TBIL_TEXT = ['0,63', '0,02', '-0,59'];
const TBIL_END = 34.8;
const TBIL_POINTS: Pt[] = [
  [2.4, 2.0], [2.5, 1.39], [5.2, 0.99], [3.7, 0.89], [5.8, 0.79], [1.6, 0.79], [2.8, 0.79], [0.8, 0.62],
  [1.25, 0.52], [1.9, 0.67], [3.1, 0.62], [1.7, 0.42], [2.6, 0.47], [3.3, 0.42], [2.2, 0.27], [4.5, 0.2],
  [5.7, 0.29], [6.7, 0.29], [7.6, 0.17], [0.56, 0.2], [1.0, 0.12], [1.5, 0.17], [2.4, 0.12], [3.3, 0.17],
  [5.6, 0.02], [8.3, 0], [0, 0], [0.3, -0.08], [0.8, -0.18], [1.5, -0.03], [1.9, -0.18], [2.6, -0.08],
  [3.1, -0.23], [3.8, -0.2], [4.5, -0.2], [5.2, -0.2], [5.9, -0.2], [6.6, -0.08], [7.0, -0.16], [8.1, -0.31],
  [1.1, -0.38], [2.3, -0.3], [3.1, -0.5], [5.2, -0.5], [0.3, -0.61], [6.6, -0.61], [7.4, -0.68], [7.0, -0.48],
  [2.3, -0.68], [2.4, -0.9], [2.4, -1.0], [1.2, -1.38], [32.7, -1.0], [3.4, -3.19],
  [0.1, 0.04], [0.2, 0.14], [0.5, -0.03], [0.65, 0.07], [0.9, -0.1], [1.3, 0.02], [1.6, -0.13], [1.85, 0.1],
  [2.1, -0.06], [2.9, 0.03], [3.6, -0.03], [4.0, 0.04], [4.7, -0.03], [1.2, 0.3], [1.8, 0.55], [2.1, 0.7],
  [2.9, 0.35], [3.5, 0.7],
];

// ---------- Lactate ----------
const LAC_X_TICKS = [0, 5, 10, 15, 20, 25];
const LAC_Y_TICKS = [8, 6, 4, 2, 0, -2, -4, -6];
const LAC_LIMITS = [1.07, -0.03, -1.24];
const LAC_CI: Band[] = [[0.87, 1.27], [-0.1, 0.05], [-1.38, -1.1]];
const LAC_TEXT = ['1,07', '-0,03', '-1,24'];
const LAC_END = 20.6;
const LAC_POINTS: Pt[] = [
  [5.3, 7.5], [6.1, 5.9], [2.9, 2.06], [3.1, -4.7], [1.36, 1.07], [1.8, 0.93], [2.5, 0.6], [19.4, 0.87],
  [10.2, 0.5], [11.2, 0.23], [10.5, -0.06], [9.2, -0.34], [10.9, -0.76], [10.2, -0.99], [8.8, -0.99],
  [12.6, -1.04], [13.3, -1.3], [5.4, -0.99], [6.1, -0.42], [5, 0.23], [4.8, -0.2], [3.7, 0.37], [4.1, -0.48],
  [3.2, -0.34], [2.7, -0.62], [2.4, 0.08], [1.7, -0.48],
  [0.1, 0.2], [0.2, -0.1], [0.3, 0.3], [0.4, 0.05], [0.5, -0.25], [0.6, 0.15], [0.7, -0.05], [0.8, 0.35],
  [0.9, -0.3], [1.0, 0.1], [1.1, -0.15], [1.2, 0.25], [1.3, 0], [1.4, -0.35], [1.5, 0.2], [1.6, -0.1],
  [1.7, 0.05], [1.9, -0.2], [2.1, 0.15], [2.3, -0.05], [0.15, -0.4], [0.35, 0.4], [0.65, -0.45], [1.05, 0.45],
  [0.25, 0.0], [0.55, 0.0], [0.85, 0.05], [1.25, -0.2], [2.0, 0.3], [2.6, -0.3],
];

// ---------- HCO3 ----------
const HCO3_X_TICKS = [0, 5, 10, 15, 20, 25, 30];
const HCO3_Y_TICKS = [15, 10, 5, 0, -5, -10, -15, -20];
const HCO3_LIMITS = [2.06, -0.6, -3.26];
const HCO3_CI: Band[] = [[1.5, 2.5], [-0.75, -0.45], [-3.6, -2.9]];
const HCO3_TEXT = ['2,06', '-0,60', '-3,26'];
const HCO3_END = 26.1;
const HCO3_POINTS: Pt[] = [
  [17.5, 12.1], [17.05, 9.85], [19.55, 6.67], [13.33, -15.15], [11.54, -8.33], [8.72, -6.06],
  [5.0, -0.23], [5.64, -1.14], [6.41, -0.53], [6.92, 0], [7.56, 0.53], [8.21, -0.38], [8.85, -0.98], [9.17, 0.38],
  [9.49, -0.23], [9.81, -0.76], [10.13, 0.23], [10.45, -1.14], [10.77, 0.68], [11.09, -0.38], [11.41, 0.08],
  [11.73, -0.98], [12.05, 0.38], [12.37, -0.53], [12.69, 0.98], [13.01, -0.23], [13.33, -1.14], [13.65, 0.38],
  [13.97, -0.53], [14.29, 0], [14.62, 0.98], [14.94, -0.76], [15.26, -2.27], [15.58, 0.38], [15.9, -0.38],
  [16.22, 0.53], [16.54, -0.98], [16.86, 0], [17.18, 0.76], [17.5, -0.53], [17.82, 0.38], [18.14, 0],
  [18.46, 1.14], [18.78, -0.38], [19.42, 0.38], [19.74, 0.98], [20.06, -0.23], [20.71, 0.23], [21.35, 0.53],
  [21.79, 1.52], [22.44, 0.38], [23.27, 0.76], [12.82, 1.52], [9.49, 1.14], [7.56, -1.14], [12.05, -1.52],
  [6.0, -0.8], [7.0, -0.3], [8.0, 0.2], [9.0, -0.6], [10.0, -0.1], [11.0, 0.4], [12.0, -0.8], [13.0, 0.1],
  [14.0, -0.3], [15.0, 0.5], [16.0, -0.6], [17.0, -0.2], [18.0, 0.6], [19.0, -0.5], [11.5, -0.5], [12.5, -0.2],
  [13.5, -0.8], [14.5, 0.2], [10.5, 0.0], [9.5, -0.4],
];

// ---------- Osmolality ----------
const OSM_X_TICKS = [260, 280, 300, 320, 340, 360, 380];
const OSM_Y_TICKS = [10, 5, 0, -5, -10, -15];
const OSM_LIMITS = [4.2, -1.25, -6.85];
const OSM_CI: Band[] = [[3.5, 4.9], [-1.65, -0.8], [-7.5, -6.25]];
const OSM_TEXT = ['4,20', '-1,25', '-6,85'];
const OSM_END = 366;
const OSM_POINTS: Pt[] = rows([
  [10, [274.8]],
  [8, [280, 289.6]],
  [6, [272, 274, 276.3, 279.1]],
  [5, [270.5, 274.8, 277.7, 280.5]],
  [4, [267.1, 274, 276.9, 279.8, 282.6, 286.9]],
  [3, [271, 274, 276.9, 279.8, 282]],
  [2, [272.8, 275.7, 279.1, 283.4, 286.3, 359.3]],
  [1, [261, 270.5, 274.8, 277.7, 280.5, 283.4, 286.3, 289.1, 303.4]],
  [0, [269.1, 272, 275.7, 278.6, 281.5, 284.3, 287.2, 290.6]],
  [-1, [267.7, 270.5, 273.4, 276.3, 279.1, 282, 284.8, 287.7, 290.6, 293.4]],
  [-2, [264.3, 267.7, 271.1, 276.3, 279.1, 282.6, 286.3, 289.1, 292]],
  [-3, [270.5, 276.3, 280.5, 284.8, 326.3]],
  [-4, [264.3, 272, 274.8, 279.1, 282.6, 287.7, 292, 303.4]],
  [-5, [269.1, 276.3, 282, 287.7]],
  [-6, [269.1, 274.8, 279.8, 283.4, 287.7]],
  [-7, [266.2, 274.8, 279.1, 299]],
  [-8, [279.8]],
  [-9, [273.4, 281.5]],
  [-10, [270.5]],
]);

// ---------------------------------------------------------------------------

const SANS = '"Liberation Sans", Arial, sans-serif';
const SERIF = '"Liberation Serif", "Times New Roman", serif';

interface Box {
  axisX: number; axisY: number;
  xPx: [number, number]; yPx: [number, number];
  plotRight?: number;
  tx: number; ty: number; xLabelY: number;
  inset?: number;
}

type Size = 'big' | 'mid' | 'small';

interface PanelDef {
  key: string;
  title: [string, boolean][];
  xLabel: string;
  xTicks: number[]; yTicks: number[];
  limits: number[]; ci: Band[]; text: string[]; bandEnd: number;
  points: Pt[];
  xDec: number; yDec: number;
  box: Box;
  size: Size;
}

const PANELS: PanelDef[] = [
  { key: 'ph', title: [['pH', false]], xLabel: 'Mean of pH_5000 and pH_90', xTicks: PH_X_TICKS, yTicks: PH_Y_TICKS, limits: PH_LIMITS, ci: PH_CI, text: PH_TEXT, bandEnd: PH_END, points: PH_POINTS, xDec: 1, yDec: 1, size: 'small',
    box: { axisX: 180.7, axisY: 322.7, xPx: [181.5, 442.7], yPx: [58.3, 316.7], tx: 305, ty: 40, xLabelY: 337, inset: 5 } },
  { key: 'pco2', title: [['PCO', false], ['2', true]], xLabel: 'Mean of pCO2_5000 and pCO2_90', xTicks: PCO2_X_TICKS, yTicks: PCO2_Y_TICKS, limits: PCO2_LIMITS, ci: PCO2_CI, text: PCO2_TEXT, bandEnd: PCO2_END, points: PCO2_POINTS, xDec: 0, yDec: 0, size: 'small',
    box: { axisX: 531.7, axisY: 313.3, xPx: [535.7, 839], yPx: [57.3, 305], tx: 680, ty: 38, xLabelY: 325, inset: 9 } },
  { key: 'po2', title: [['PO', false], ['2', true]], xLabel: 'Mean of pO2_5000 and PO2 90', xTicks: PO2_X_TICKS, yTicks: PO2_Y_TICKS, limits: PO2_LIMITS, ci: PO2_CI, text: PO2_TEXT, bandEnd: PO2_END, points: PO2_POINTS, xDec: 0, yDec: 0, size: 'big',
    box: { axisX: 934, axisY: 295, xPx: [940, 1246], yPx: [59.7, 287.7], tx: 1078, ty: 38, xLabelY: 324, inset: 2 } },
  { key: 'so2', title: [['SO', false], ['2', true]], xLabel: 'Mean of sO2_5000 and sO2_90', xTicks: SO2_X_TICKS, yTicks: SO2_Y_TICKS, limits: SO2_LIMITS, ci: SO2_CI, text: SO2_TEXT, bandEnd: SO2_END, points: SO2_POINTS, xDec: 0, yDec: 0, size: 'mid',
    box: { axisX: 191.7, axisY: 570, xPx: [194, 439], yPx: [392.7, 566], tx: 305, ty: 375, xLabelY: 593, inset: 10 } },
  { key: 'ica', title: [['iCa', false]], xLabel: 'Mean of iCa_5000 and iCa_90', xTicks: ICA_X_TICKS, yTicks: ICA_Y_TICKS, limits: ICA_LIMITS, ci: ICA_CI, text: ICA_TEXT, bandEnd: ICA_END, points: ICA_POINTS, xDec: 1, yDec: 1, size: 'small',
    box: { axisX: 542, axisY: 585, xPx: [542.5, 836], yPx: [390.7, 579], tx: 680, ty: 374, xLabelY: 595 } },
  { key: 'na', title: [['Na', false]], xLabel: 'Mean of Na_5000 and Na 90', xTicks: NA_X_TICKS, yTicks: NA_Y_TICKS, limits: NA_LIMITS, ci: NA_CI, text: NA_TEXT, bandEnd: NA_END, points: NA_POINTS, xDec: 0, yDec: 0, size: 'small',
    box: { axisX: 930.5, axisY: 577, xPx: [931, 1235], yPx: [389.7, 570], tx: 1076, ty: 374, xLabelY: 588, inset: 5 } },
  { key: 'k', title: [['K', false]], xLabel: 'Mean of K_5000 and K90', xTicks: K_X_TICKS, yTicks: K_Y_TICKS, limits: K_LIMITS, ci: K_CI, text: K_TEXT, bandEnd: K_END, points: K_POINTS, xDec: 0, yDec: 1, size: 'small',
    box: { axisX: 180, axisY: 860, xPx: [183, 442], yPx: [646.7, 854], tx: 305, ty: 627, xLabelY: 872 } },
  { key: 'cl', title: [['Cl', false]], xLabel: 'Mean of Cl_5000 and Cl_90', xTicks: CL_X_TICKS, yTicks: CL_Y_TICKS, limits: CL_LIMITS, ci: CL_CI, text: CL_TEXT, bandEnd: CL_END, points: CL_POINTS, xDec: 0, yDec: 0, size: 'small',
    box: { axisX: 548.7, axisY: 846, xPx: [549, 821], yPx: [644.3, 839], tx: 681, ty: 627, xLabelY: 857, inset: 1 } },
  { key: 'hb', title: [['Hb', false]], xLabel: 'Mean of tHb_5000 and tHb_90', xTicks: HB_X_TICKS, yTicks: HB_Y_TICKS, limits: HB_LIMITS, ci: HB_CI, text: HB_TEXT, bandEnd: HB_END, points: HB_POINTS, xDec: 0, yDec: 0, size: 'big',
    box: { axisX: 937.5, axisY: 830, xPx: [943.7, 1242.9], yPx: [645.7, 825.7], tx: 1078, ty: 627, xLabelY: 853, inset: 2 } },
  { key: 'o2hb', title: [['O', false], ['2', true], ['Hb', false]], xLabel: 'Mean of O2Hb_5000 and O2Hb_90', xTicks: O2HB_X_TICKS, yTicks: O2HB_Y_TICKS, limits: O2HB_LIMITS, ci: O2HB_CI, text: O2HB_TEXT, bandEnd: O2HB_END, points: O2HB_POINTS, xDec: 0, yDec: 0, size: 'small',
    box: { axisX: 178.6, axisY: 1104.7, xPx: [180.8, 441], yPx: [919.7, 1098], tx: 305, ty: 904, xLabelY: 1116, inset: 4 } },
  { key: 'cohb', title: [['COHb', false]], xLabel: 'Mean of COHb_5000 and COHb_90', xTicks: COHB_X_TICKS, yTicks: COHB_Y_TICKS, limits: COHB_LIMITS, ci: COHB_CI, text: COHB_TEXT, bandEnd: COHB_END, points: COHB_POINTS, xDec: 0, yDec: 1, size: 'small',
    box: { axisX: 536, axisY: 1113, xPx: [539, 835.6], yPx: [919.7, 1106.3], tx: 681, ty: 904, xLabelY: 1124, inset: 1 } },
  { key: 'methb', title: [['MetHb', false]], xLabel: 'Mean of MetHb_5000 and MetHb_90', xTicks: METHB_X_TICKS, yTicks: METHB_Y_TICKS, limits: METHB_LIMITS, ci: METHB_CI, text: METHB_TEXT, bandEnd: METHB_END, points: METHB_POINTS, xDec: 0, yDec: 1, size: 'small',
    box: { axisX: 928.6, axisY: 1110, xPx: [930.5, 1237], yPx: [919.6, 1104.3], tx: 1077, ty: 904, xLabelY: 1121, inset: 2 } },
  { key: 'hhb', title: [['HHb', false]], xLabel: 'Mean of HbH 5000 and HbH 90', xTicks: HHB_X_TICKS, yTicks: HHB_Y_TICKS, limits: HHB_LIMITS, ci: HHB_CI, text: HHB_TEXT, bandEnd: HHB_END, points: HHB_POINTS, xDec: 0, yDec: 0, size: 'mid',
    box: { axisX: 180.7, axisY: 1368.3, xPx: [184, 448.7], yPx: [1176.3, 1364.7], tx: 305, ty: 1156, xLabelY: 1394, inset: 10 } },
  { key: 'glu', title: [['Glucose', false]], xLabel: 'Mean of Glu_5000 and Glu_90', xTicks: GLU_X_TICKS, yTicks: GLU_Y_TICKS, limits: GLU_LIMITS, ci: GLU_CI, text: GLU_TEXT, bandEnd: GLU_END, points: GLU_POINTS, xDec: 0, yDec: 0, size: 'small',
    box: { axisX: 542, axisY: 1380.4, xPx: [545, 830.4], yPx: [1171.5, 1374.6], tx: 680, ty: 1153, xLabelY: 1392, inset: 2 } },
  { key: 'tbil', title: [['Total Bilirubin', false]], xLabel: 'Mean of tBili_5000 and tBili_90', xTicks: TBIL_X_TICKS, yTicks: TBIL_Y_TICKS, limits: TBIL_LIMITS, ci: TBIL_CI, text: TBIL_TEXT, bandEnd: TBIL_END, points: TBIL_POINTS, xDec: 0, yDec: 0, size: 'big',
    box: { axisX: 936.8, axisY: 1382.3, xPx: [942, 1238.4], yPx: [1176.7, 1376.3], tx: 1078, ty: 1156, xLabelY: 1408, inset: 1 } },
  { key: 'lac', title: [['Lactate', false]], xLabel: 'Mean of Lac_5000 and Lac_90', xTicks: LAC_X_TICKS, yTicks: LAC_Y_TICKS, limits: LAC_LIMITS, ci: LAC_CI, text: LAC_TEXT, bandEnd: LAC_END, points: LAC_POINTS, xDec: 0, yDec: 0, size: 'small',
    box: { axisX: 173.3, axisY: 1625.3, xPx: [175.4, 431.6], yPx: [1453, 1619.3], tx: 302, ty: 1439, xLabelY: 1636, inset: 1 } },
  { key: 'hco3', title: [['HCO', false], ['3', true]], xLabel: 'Mean of HCO3_a_5000 and HCO3_a_90', xTicks: HCO3_X_TICKS, yTicks: HCO3_Y_TICKS, limits: HCO3_LIMITS, ci: HCO3_CI, text: HCO3_TEXT, bandEnd: HCO3_END, points: HCO3_POINTS, xDec: 0, yDec: 0, size: 'small',
    box: { axisX: 514.7, axisY: 1612, xPx: [519.6, 843.7], yPx: [1453.7, 1607.7], tx: 677.5, ty: 1439, xLabelY: 1623, inset: 4 } },
  { key: 'osm', title: [['Osmolality', false]], xLabel: 'Mean of osmol_5000 and osmol_90', xTicks: OSM_X_TICKS, yTicks: OSM_Y_TICKS, limits: OSM_LIMITS, ci: OSM_CI, text: OSM_TEXT, bandEnd: OSM_END, points: OSM_POINTS, xDec: 0, yDec: 0, size: 'small',
    box: { axisX: 926.8, axisY: 1624, xPx: [929, 1219], yPx: [1453, 1618.7], plotRight: 1242, tx: 1075.6, ty: 1439, xLabelY: 1635, inset: 4 } },
];

const STYLE = {
  big: { tick: 10, lbl: 9.8, above: 4.5, below: 12, xl: 10, r: 2.9, sw: 1.1, axis: 1.6, tickSize: 3, tickMargin: 2 },
  mid: { tick: 8.5, lbl: 7.4, above: 3.6, below: 8.6, xl: 8.2, r: 2.8, sw: 1, axis: 1.5, tickSize: 3, tickMargin: 2 },
  small: { tick: 5, lbl: 4.6, above: 2.6, below: 6.2, xl: 4.6, r: 2.6, sw: 0.9, axis: 1, tickSize: 2, tickMargin: 1 },
};
type Sty = typeof STYLE.big;

const fmt = (dec: number) => (v: number) => v.toFixed(dec).replace('.', ',');

// two-line label on the right of a limit line: name above, value below
const sideLabel = (top: string, bottom: string, s: Sty, inset: number) => (props: any) => {
  const vb = props.viewBox || {};
  const right = vb.x1 !== undefined ? Math.max(vb.x1, vb.x2) : (vb.x ?? 0) + (vb.width ?? 0);
  const y = vb.y1 !== undefined ? vb.y1 : vb.y ?? 0;
  const x = right - inset;
  const style = { fontSize: s.lbl, fontWeight: 700, fontFamily: SANS, fill: '#1b1b1b' };
  return (
    <g>
      <text x={x} y={y - s.above} textAnchor="end" style={style}>{top}</text>
      <text x={x} y={y + s.below} textAnchor="end" style={style}>{bottom}</text>
    </g>
  );
};

const ring = (r: number, sw: number) => (props: any) => (
  <circle cx={props.cx} cy={props.cy} r={r} fill="none" stroke="#f3883a" strokeWidth={sw} />
);

function BlandAltman({ p }: { p: PanelDef }) {
  const b = p.box;
  const s = STYLE[p.size];
  const nx = p.xTicks.length - 1;
  const ny = p.yTicks.length - 1;
  const kx = (b.xPx[1] - b.xPx[0]) / (p.xTicks[nx] - p.xTicks[0]);
  const ky = (b.yPx[1] - b.yPx[0]) / (p.yTicks[0] - p.yTicks[ny]);
  const right = b.plotRight ?? b.xPx[1];
  const xDomain: [number, number] = [p.xTicks[0] - (b.xPx[0] - b.axisX) / kx, p.xTicks[0] + (right - b.xPx[0]) / kx];
  const yDomain: [number, number] = [p.yTicks[ny] - (b.axisY - b.yPx[1]) / ky, p.yTicks[0]];
  const YW = 36, XH = 18, MT = 6, MR = 16;
  const w = YW + (right - b.axisX) + MR;
  const h = MT + (b.axisY - b.yPx[0]) + XH;
  const x0 = p.xTicks[0];
  const end = p.bandEnd;
  const [up, mean, low] = p.limits;
  const inset = b.inset ?? 3;
  const big = p.size !== 'small';
  const data = p.points.map(([x, y]) => ({ x, y }));
  const tickStyle = { fontSize: s.tick, fontWeight: 700, fontFamily: SANS, fill: '#1e1e1e' };
  const edge = (y: number, k: string) => (
    <ReferenceLine key={k} segment={[{ x: x0, y }, { x: end, y }]} stroke="#3f3ff0" strokeWidth={big ? 1.4 : 1} ifOverflow="visible" />
  );

  return (
    <div style={{ position: 'absolute', left: b.axisX - YW, top: b.yPx[0] - MT }}>
      <ScatterChart width={w} height={h} margin={{ top: MT, right: MR, left: 0, bottom: 0 }}>
        <XAxis type="number" dataKey="x" domain={xDomain} ticks={p.xTicks} interval={0} allowDataOverflow
          height={XH} tickFormatter={fmt(p.xDec)} tick={tickStyle} tickSize={s.tickSize} tickMargin={s.tickMargin}
          axisLine={{ stroke: '#2a2a2a', strokeWidth: s.axis }} tickLine={{ stroke: '#2a2a2a' }} />
        <YAxis type="number" dataKey="y" domain={yDomain} ticks={p.yTicks} interval={0} allowDataOverflow
          width={YW} tickFormatter={fmt(p.yDec)} tick={tickStyle} tickSize={s.tickSize} tickMargin={s.tickMargin}
          axisLine={{ stroke: '#2a2a2a', strokeWidth: s.axis }} tickLine={{ stroke: '#2a2a2a' }} />

        {/* confidence bands of the limits of agreement */}
        <ReferenceArea x1={x0} x2={end} y1={p.ci[0][0]} y2={p.ci[0][1]} fill="#a4a4fa" fillOpacity={0.85} stroke="none" ifOverflow="visible" />
        <ReferenceArea x1={x0} x2={end} y1={p.ci[2][0]} y2={p.ci[2][1]} fill="#a4a4fa" fillOpacity={0.85} stroke="none" ifOverflow="visible" />
        {edge(p.ci[0][0], 'u0')}
        {edge(p.ci[0][1], 'u1')}
        {edge(p.ci[2][0], 'l0')}
        {edge(p.ci[2][1], 'l1')}

        {/* zero line */}
        <ReferenceLine segment={[{ x: x0, y: 0 }, { x: end, y: 0 }]} stroke="#f6a56c" strokeWidth={1.5} ifOverflow="visible" />

        {/* mean line with its confidence band */}
        <ReferenceLine y={mean} stroke="#2c6ab5" strokeWidth={big ? 2 : 1.6}
          label={sideLabel('Mean', p.text[1], s, inset)} />
        <ReferenceArea x1={x0} x2={end} y1={p.ci[1][0]} y2={p.ci[1][1]} fill="#93dc98" fillOpacity={0.8} stroke="none" ifOverflow="visible" />
        <ReferenceLine segment={[{ x: x0, y: mean }, { x: end, y: mean }]} stroke="#2b8a4e" strokeWidth={1.1} strokeDasharray="2 2" ifOverflow="visible" />

        {/* limits of agreement */}
        <ReferenceLine y={up} stroke="#e25a5a" strokeWidth={1} strokeDasharray="2 1.5"
          label={sideLabel('+1.96 SD', p.text[0], s, inset)} />
        <ReferenceLine y={low} stroke="#e25a5a" strokeWidth={1} strokeDasharray="2 1.5"
          label={sideLabel('-1.96 SD', p.text[2], s, inset)} />

        <Scatter data={data} isAnimationActive={false} shape={ring(s.r, s.sw)} />
      </ScatterChart>
    </div>
  );
}

const ROW_LINES = [349, 600, 878, 1129, 1417];
const COL_LINES = [485, 874];

export default function App() {
  return (
    <div style={{ position: 'absolute', left: 0, top: 0, width: 1410, height: 1642, background: '#ffffff', overflow: 'hidden' }}>
      {PANELS.map((p) => <BlandAltman key={p.key} p={p} />)}
      <svg width={1410} height={1642} style={{ position: 'absolute', left: 0, top: 0, pointerEvents: 'none' }}>
        <rect x={8} y={8} width={1400} height={1632} fill="none" stroke="#72a9dc" strokeWidth={2} />
        {COL_LINES.map((x) => <line key={x} x1={x} x2={x} y1={15} y2={1638} stroke="#1e1e1e" strokeWidth={1.5} />)}
        {ROW_LINES.map((y) => <line key={y} x1={165} x2={1251} y1={y} y2={y} stroke="#1e1e1e" strokeWidth={1.5} />)}
        {PANELS.map((p) => {
          const b = p.box;
          const right = b.plotRight ?? b.xPx[1];
          return (
            <g key={p.key}>
              <text x={b.tx} y={b.ty} textAnchor="middle" style={{ fontFamily: SERIF, fontWeight: 700, fontSize: 25, fill: '#111' }}>
                {p.title.map(([t, sub], i) => (
                  <tspan key={i} fontSize={sub ? 16 : 25} dy={sub ? 3 : (i > 0 && p.title[i - 1][1] ? -3 : 0)}>{t}</tspan>
                ))}
              </text>
              <text x={(b.axisX + right) / 2} y={b.xLabelY} textAnchor="middle"
                style={{ fontFamily: SANS, fontWeight: 700, fontSize: STYLE[p.size].xl, fill: '#1e1e1e' }}>
                {p.xLabel}
              </text>
            </g>
          );
        })}
      </svg>
    </div>
  );
}
